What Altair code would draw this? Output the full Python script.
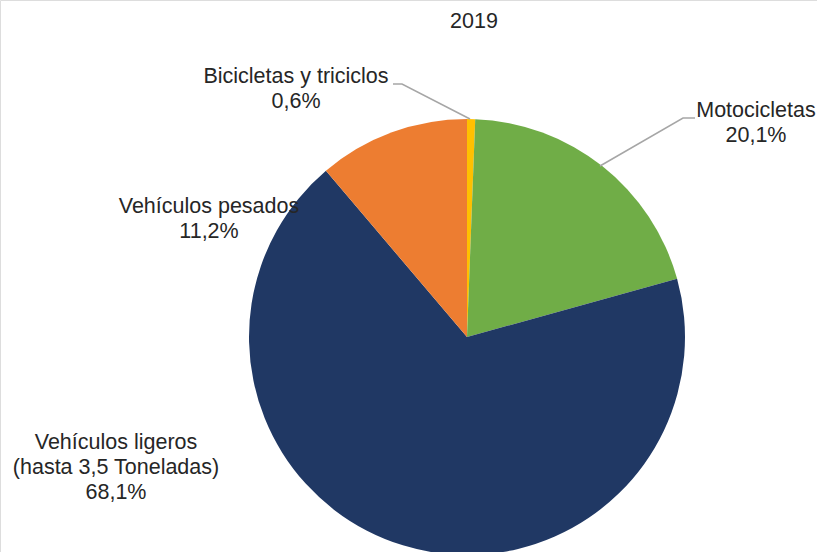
import altair as alt
import pandas as pd

# Share of vehicles by type, 2019
categories = ["Bicicletas y triciclos", "Motocicletas",
              "Vehículos ligeros\n(hasta 3,5 Toneladas)", "Vehículos pesados"]
shares = [0.6, 20.1, 68.1, 11.2]
share_labels = ["0,6%", "20,1%", "68,1%", "11,2%"]
colors = ["#FFC000", "#70AD47", "#203864", "#ED7D31"]

# label anchors (pixels) and leader lines
label_x = [296, 756, 116, 209]
label_y = [77, 111, 443, 207]
leader_pts = [
    [(393, 84), (402, 84), (470, 119)],
    [(600, 166), (683, 118), (695, 118)],
]

W, H = 817, 552
CX, CY, R = 467, 337, 218
FONT_SIZE = 21.5

pie_df = pd.DataFrame({
    "categoria": categories,
    "valor": shares,
    "orden": list(range(len(categories))),
})

pie = alt.Chart(pie_df).mark_arc(radius=R, stroke=None).encode(
    theta=alt.Theta("valor:Q", stack=True),
    order=alt.Order("orden:Q"),
    color=alt.Color("categoria:N", scale=alt.Scale(domain=categories, range=colors), legend=None),
    x=alt.value(CX),
    y=alt.value(CY),
)

label_df = pd.DataFrame({
    "texto": [f"{c}\n{p}" for c, p in zip(categories, share_labels)],
    "lx": label_x,
    "ly": label_y,
})

labels = alt.Chart(label_df).mark_text(
    font="Liberation Sans", fontSize=FONT_SIZE, color="#262626",
    align="center", baseline="middle", lineBreak="\n", lineHeight=25,
).encode(
    x=alt.X("lx:Q", scale=alt.Scale(domain=[0, W]), axis=None),
    y=alt.Y("ly:Q", scale=alt.Scale(domain=[0, H], reverse=True), axis=None),
    text="texto:N",
)

rows = []
for i, pts in enumerate(leader_pts):
    for j, (px, py) in enumerate(pts):
        rows.append({"linea": i, "paso": j, "px": px, "py": py})
lead_df = pd.DataFrame(rows)

leaders = alt.Chart(lead_df).mark_line(color="#A6A6A6", strokeWidth=1.5).encode(
    x=alt.X("px:Q", scale=alt.Scale(domain=[0, W]), axis=None),
    y=alt.Y("py:Q", scale=alt.Scale(domain=[0, H], reverse=True), axis=None),
    detail="linea:N",
    order="paso:Q",
)

title = alt.Chart(pd.DataFrame({"t": ["2019"]})).mark_text(
    font="Liberation Sans", fontSize=FONT_SIZE, color="#262626", align="center", baseline="middle"
).encode(x=alt.value(474), y=alt.value(22), text="t:N")

chart = alt.layer(pie, leaders, labels, title).properties(
    width=W, height=H,
    autosize=alt.AutoSizeParams(type="none"),
    padding=0,
).configure_view(stroke=None).configure(background="white")

chart.save("out.html", embed_options={"renderer": "svg", "actions": False})
